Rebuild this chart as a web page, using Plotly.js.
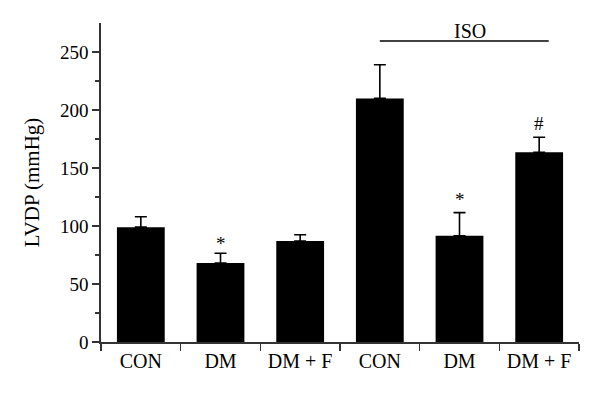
<!DOCTYPE html>
<html>
<head>
<meta charset="utf-8">
<script src="https://cdn.plot.ly/plotly-3.0.1.min.js"></script>
<style>html,body{margin:0;padding:0;background:#fff;}#chart{width:600px;height:397px;}</style>
</head>
<body>
<div id="chart"></div>
<script>
var categories = ["CON", "DM", "DM + F", "CON ", "DM ", "DM + F "];
var tickLabels = ["CON", "DM", "DM + F", "CON", "DM", "DM + F"];
var lvdp = [99, 68, 87, 210, 91.5, 163.5];
var lvdpErr = [9, 8.5, 5.5, 29, 20, 13];
var marks = ["", "*", "", "", "*", "#"];
var markY = [null, 85, null, null, 123, 188];
var groupLabel = "ISO";

var serif = "Liberation Serif, Times New Roman, serif";
var axisColor = "#333333";

var trace = {
  type: "bar",
  x: categories,
  y: lvdp,
  width: 0.6,
  marker: {color: "#000000", line: {width: 0}},
  error_y: {
    type: "data",
    symmetric: false,
    array: lvdpErr,
    arrayminus: lvdpErr.map(function(){return 0;}),
    color: "#000000",
    thickness: 1.6,
    width: 6
  },
  hoverinfo: "skip"
};

var annotations = [];
for (var i = 0; i < categories.length; i++) {
  if (marks[i]) {
    annotations.push({
      x: categories[i], y: markY[i], xref: "x", yref: "y",
      text: marks[i], showarrow: false, yanchor: "middle",
      font: {family: serif, size: 19, color: "#000000"}
    });
  }
}
annotations.push({
  x: 4.13, y: 268, xref: "x", yref: "y", text: groupLabel, showarrow: false,
  yanchor: "middle", font: {family: serif, size: 20, color: "#000000"}
});

var layout = {
  width: 600, height: 397,
  margin: {l: 101, r: 21, t: 23, b: 55},
  paper_bgcolor: "#fff", plot_bgcolor: "#fff",
  showlegend: false,
  font: {family: serif, color: "#000"},
  xaxis: {
    type: "category",
    tickmode: "array",
    tickvals: categories,
    ticktext: tickLabels,
    tickson: "boundaries",
    ticks: "outside", ticklen: 7, tickwidth: 1.5, tickcolor: axisColor,
    showline: true, linecolor: axisColor, linewidth: 1.8,
    showgrid: false, zeroline: false,
    range: [-0.5, 5.5],
    tickfont: {family: serif, size: 20, color: "#000"}
  },
  yaxis: {
    range: [0, 275],
    tickvals: [0, 50, 100, 150, 200, 250],
    ticks: "outside", ticklen: 7, tickwidth: 1.5, tickcolor: axisColor,
    minor: {tickvals: [25, 75, 125, 175, 225], ticks: "outside", ticklen: 4, tickwidth: 1.5, tickcolor: axisColor},
    showline: true, linecolor: axisColor, linewidth: 1.8,
    showgrid: false, zeroline: false,
    tickfont: {family: serif, size: 19, color: "#000"},
    title: {text: "LVDP (mmHg)", font: {family: serif, size: 21, color: "#000"}, standoff: 14}
  },
  shapes: [{
    type: "line", xref: "x", yref: "y",
    x0: 3, x1: 5.12, y0: 259.5, y1: 259.5,
    line: {color: "#000", width: 1.6}
  }],
  annotations: annotations
};

Plotly.newPlot("chart", [trace], layout, {displayModeBar: false, staticPlot: true});
</script>
</body>
</html>
